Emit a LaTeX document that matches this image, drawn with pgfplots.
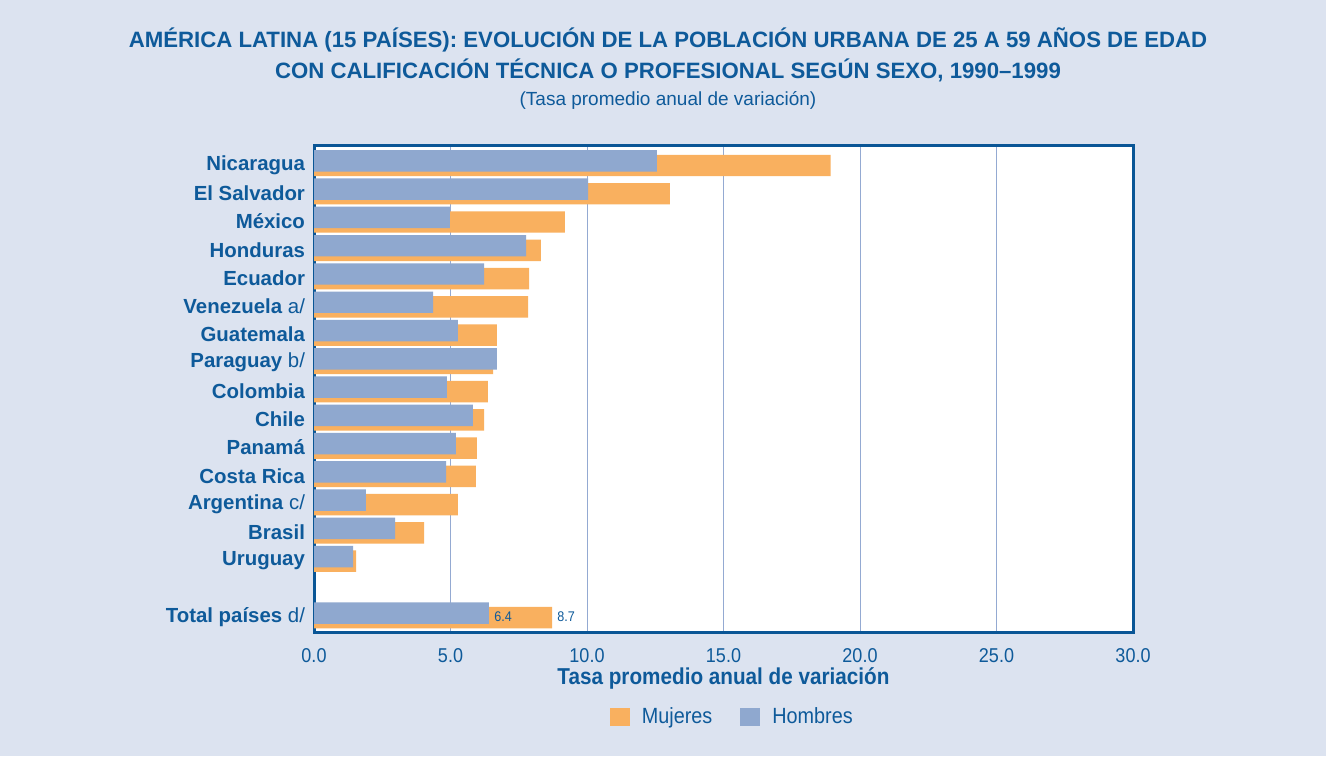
\documentclass[border=0pt]{standalone}
\usepackage{pgfplots}
\pgfplotsset{compat=1.18}
\usepackage{fontspec}
\setmainfont{Liberation Sans}
\newfontfamily\cond[FakeStretch=0.9]{Liberation Sans}
\definecolor{bgc}{HTML}{DCE3F0}
\definecolor{txt}{HTML}{0E5A9A}
\definecolor{frame}{HTML}{0A5696}
\definecolor{gridc}{HTML}{94AAD2}
\definecolor{orng}{HTML}{F9B05F}
\definecolor{blu}{HTML}{8FA8CF}
\begin{document}
\begin{tikzpicture}
\fill[bgc] (0,0) rectangle (663pt,-378pt);
\node[txt,font=\bfseries\fontsize{11.1}{13}\selectfont] at (334pt,-20pt) {AMÉRICA LATINA (15 PAÍSES): EVOLUCIÓN DE LA POBLACIÓN URBANA DE 25 A 59 AÑOS DE EDAD};
\node[txt,font=\bfseries\fontsize{11.1}{13}\selectfont] at (334pt,-35pt) {CON CALIFICACIÓN TÉCNICA O PROFESIONAL SEGÚN SEXO, 1990–1999};
\node[txt,font=\fontsize{9.5}{11}\selectfont] at (334pt,-50pt) {(Tasa promedio anual de variación)};
\begin{axis}[
  at={(157pt,-316pt)}, anchor=south west,
  scale only axis, width=409.5pt, height=243.5pt,
  xmin=0, xmax=30, ymin=-0.6, ymax=16.635,
  xbar, bar width=0.76,
  axis background/.style={fill=white},
  axis line style={frame, line width=1.5pt},
  xtick={0,5,...,30},
  xticklabels={0.0,5.0,10.0,15.0,20.0,25.0,30.0},
  xmajorgrids, grid style={gridc, line width=0.5pt},
  major tick length=0pt,
  ytick={0,2,3,4,5,6,7,8,9,10,11,12,13,14,15,16},
  yticklabels={Total países \textmd{d/},Uruguay,Brasil,Argentina \textmd{c/},Costa Rica,Panamá,Chile,Colombia,Paraguay \textmd{b/},Guatemala,Venezuela \textmd{a/},Ecuador,Honduras,México,El Salvador,Nicaragua},
  yticklabel style={txt, font=\bfseries\fontsize{10.2}{12}\selectfont, xshift=-1pt, yshift=-1pt},
  xticklabel style={txt, font=\cond\fontsize{10}{12}\selectfont, yshift=-4.5pt},
  /pgf/number format/assume math mode=true,
  xlabel={Tasa promedio anual de variación},
  xlabel style={txt, font=\cond\bfseries\fontsize{11.5}{13}\selectfont, yshift=4pt},
  legend style={at={(0.512,-0.175)}, anchor=center, legend columns=2, draw=none, fill=none, font=\cond\fontsize{11}{12}\selectfont, text=txt,
    /tikz/every odd column/.append style={column sep=4pt},
    /tikz/every even column/.append style={column sep=12pt}},
  legend image code/.code={\fill (0pt,-4.5pt) rectangle (10pt,4.5pt);},
  clip=false,
]
\addplot[fill=orng, draw=none, bar shift=-0.09] coordinates {
(8.72,0) (1.54,2) (4.03,3) (5.27,4) (5.93,5) (5.97,6) (6.23,7) (6.37,8) (6.56,9) (6.70,10) (7.84,11) (7.88,12) (8.31,13) (9.19,14) (13.04,15) (18.92,16)};
\addlegendentry{Mujeres}
\addplot[fill=blu, draw=none, bar shift=0.07] coordinates {
(6.41,0) (1.43,2) (2.97,3) (1.90,4) (4.84,5) (5.20,6) (5.82,7) (4.87,8) (6.70,9) (5.27,10) (4.36,11) (6.23,12) (7.77,13) (4.98,14) (10.04,15) (12.56,16)};
\addlegendentry{Hombres}
\node[txt, font=\cond\fontsize{7}{8}\selectfont, anchor=west] at (axis cs:6.35,-0.05) {6.4};
\node[txt, font=\cond\fontsize{7}{8}\selectfont, anchor=west] at (axis cs:8.66,-0.05) {8.7};
\end{axis}
\end{tikzpicture}
\end{document}
